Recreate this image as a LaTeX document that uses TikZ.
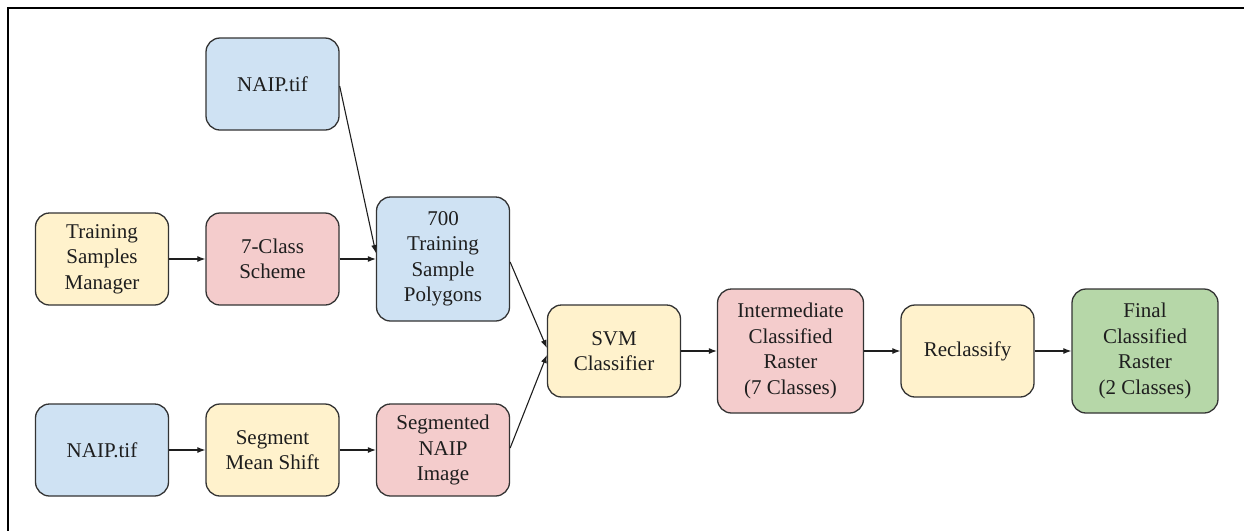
\documentclass[tikz,border=0pt]{standalone}
\usepackage{fontspec}
\setmainfont{LiberationSerif}[Extension=.ttf, UprightFont=*-Regular, BoldFont=*-Bold]
\usetikzlibrary{arrows.meta,calc}

\definecolor{fillblue}{HTML}{CFE2F3}
\definecolor{fillyellow}{HTML}{FFF2CC}
\definecolor{fillred}{HTML}{F4CCCC}
\definecolor{fillgreen}{HTML}{B6D7A8}
\definecolor{edge}{HTML}{333333}
\definecolor{ink}{HTML}{1E1E1E}

\tikzset{
  box/.style={draw=edge, line width=1.3pt, rounded corners=14pt,
    minimum width=133pt, minimum height=92pt, inner sep=0pt,
    align=center, text=ink, font=\fontsize{21}{25.5}\selectfont},
  tall/.style={minimum height=124pt},
  wide/.style={minimum width=146pt},
  bluebox/.style={box, fill=fillblue},
  yellowbox/.style={box, fill=fillyellow},
  redbox/.style={box, fill=fillred},
  greenbox/.style={box, fill=fillgreen},
  flow/.style={draw=ink, line width=1.1pt,
    -{Latex[length=8pt,width=6pt]}},
}

\begin{document}
\begin{tikzpicture}[x=1pt,y=-1pt]
  \useasboundingbox (0,0) rectangle (1244,531);

  % frame edges along the top and left
  \draw[line width=2.5pt] (1244,8) -- (8,8) -- (8,531);

  % input branch: training samples
  \node[bluebox]   (naiptop) at (272.5,84)  {NAIP.tif};
  \node[yellowbox] (tsm)     at (102,259)   {Training\\Samples\\Manager};
  \node[redbox]    (scheme)  at (272.5,259) {7-Class\\Scheme};
  \node[bluebox,tall] (poly) at (443,259)   {700\\Training\\Sample\\Polygons};

  % input branch: segmentation
  \node[bluebox]   (naipbot) at (102,450)   {NAIP.tif};
  \node[yellowbox] (sms)     at (272.5,450) {Segment\\Mean Shift};
  \node[redbox]    (seg)     at (443,450)   {Segmented\\NAIP\\Image};

  % classification chain
  \node[yellowbox] (svm)     at (614,351)   {SVM\\Classifier};
  \node[redbox,tall,wide] (inter) at (790.5,351) {Intermediate\\Classified\\Raster\\(7 Classes)};
  \node[yellowbox] (recl)    at (967.5,351) {Reclassify};
  \node[greenbox,tall,wide] (final) at (1145,351) {Final\\Classified\\Raster\\(2 Classes)};

  % connectors
  \draw[flow] (tsm) -- (scheme);
  \draw[flow] (scheme) -- (poly);
  \draw[flow] ($(naiptop.east)+(0,2)$) -- ($(poly.west)+(0,-6)$);
  \draw[flow] (naipbot) -- (sms);
  \draw[flow] (sms) -- (seg);
  \draw[flow] ($(poly.east)+(0,3)$) -- ($(svm.west)+(0,-3)$);
  \draw[flow] ($(seg.east)+(0,-2)$) -- ($(svm.west)+(0,4)$);
  \draw[flow] (svm) -- (inter);
  \draw[flow] (inter) -- (recl);
  \draw[flow] (recl) -- (final);
\end{tikzpicture}
\end{document}
